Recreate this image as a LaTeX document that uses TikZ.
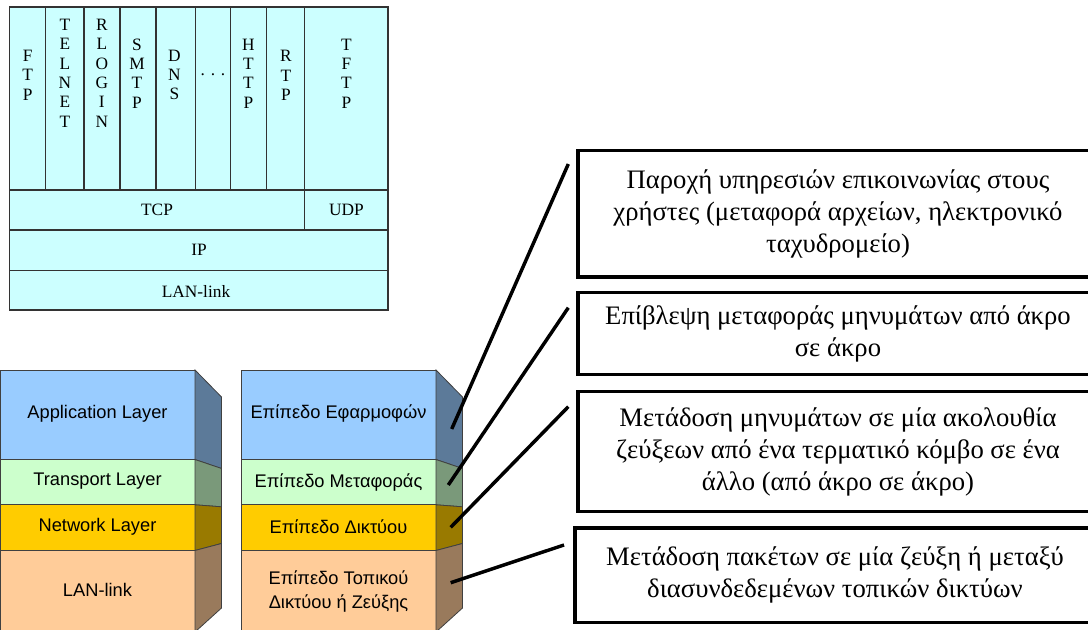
\documentclass[tikz,border=0pt]{standalone}
\usepackage{fontspec}
\setmainfont{Liberation Serif}
\newfontfamily\arialfont{Liberation Sans}

\definecolor{protofill}{HTML}{CCFFFF}
\definecolor{fapp}{HTML}{99CCFF}
\definecolor{sapp}{HTML}{5C7A99}
\definecolor{ftrans}{HTML}{CCFFCC}
\definecolor{strans}{HTML}{7A997A}
\definecolor{fnet}{HTML}{FFCC00}
\definecolor{snet}{HTML}{997A00}
\definecolor{flan}{HTML}{FFCC99}
\definecolor{slan}{HTML}{997A5C}

\begin{document}
\begin{tikzpicture}[x=0.75pt,y=-0.75pt,
  proto/.style={font=\fontsize{13}{14.5}\selectfont, align=center, inner sep=0pt},
  layer/.style={font=\arialfont\fontsize{13.7}{18}\selectfont, align=center, inner sep=0pt},
  descbox/.style={draw, line width=2.4pt, align=center, inner sep=0pt,
    font=\fontsize{20}{24}\selectfont},
  link/.style={line width=2.6pt}]
\useasboundingbox (0,0) rectangle (1088,630);
\clip (0,0) rectangle (1088,630);

\draw[fill=protofill, draw=black!80, line width=0.8pt] (9.5,7) rectangle (388,310);
\foreach \x in {45.7,84,120,156,195.7,230.7,266.7}
  \draw[black!80, line width=0.8pt] (\x,7) -- (\x,190);
\draw[black!80, line width=0.8pt] (304.7,7) -- (304.7,230);
\foreach \y in {190,230,270.7}
  \draw[black!80, line width=0.8pt] (9.5,\y) -- (388,\y);

\node[proto] (ftp) at (27.6,75) {F\\T\\P};
\node[proto] (telnet) at (64.9,73) {T\\E\\L\\N\\E\\T};
\node[proto] (rlogin) at (101.8,73) {R\\L\\O\\G\\I\\N};
\node[proto] (smtp) at (137,73.5) {S\\M\\T\\P};
\node[proto] (dns) at (174.5,75) {D\\N\\S};
\node[proto] (dots) at (213,75) {. . .};
\node[proto] (http) at (248.5,73.5) {H\\T\\T\\P};
\node[proto] (rtp) at (286,75.5) {R\\T\\P};
\node[proto] (tftp) at (346.5,73.5) {T\\F\\T\\P};
\node[proto] (tcp) at (157,210) {TCP};
\node[proto] (udp) at (346.5,210) {UDP};
\node[proto] (ip) at (199,250) {IP};
\node[proto] (lanlink) at (196,291) {LAN-link};

\foreach \sx/\pre in {0/en,241/gr}{
  \begin{scope}[shift={(\sx,0)}]
    \foreach \ya/\yb/\sa/\sb/\col in {370/459.5/397/468.5/app,
        459.5/504.8/468.5/506.8/trans, 504.8/550.5/506.8/543.5/net,
        550.5/632/543.5/608/lan}
    {
      \filldraw[fill=f\col, draw=black!75, line width=0.6pt] (0,\ya) rectangle (195,\yb);
      \filldraw[fill=s\col, draw=black!75, line width=0.6pt]
        (195,\ya) -- (221.5,\sa) -- (221.5,\sb) -- (195,\yb) -- cycle;
    }
    \coordinate (\pre-app) at (210.7,429);
    \coordinate (\pre-trans) at (207.3,485);
    \coordinate (\pre-net) at (209.7,527.3);
    \coordinate (\pre-lan) at (209.7,582.7);
  \end{scope}
}

\node[layer] (appen) at (97.5,413.5) {Application Layer};
\node[layer] (transen) at (97.5,481.5) {Transport Layer};
\node[layer] (neten) at (97.5,527) {Network Layer};
\node[layer] (lanen) at (97.5,590) {LAN-link};
\node[layer] (appgr) at (338.5,414) {Επίπεδο Εφαρμοφών};
\node[layer] (transgr) at (338.5,483) {Επίπεδο Μεταφοράς};
\node[layer] (netgr) at (338.5,527) {Επίπεδο Δικτύου};
\node[layer] (langr) at (338.5,592) {Επίπεδο Τοπικού\\Δικτύου ή Ζεύξης};

\node[descbox, minimum width=390pt, minimum height=94.7pt] (appdesc) at (838,213.9)
  {Παροχή υπηρεσιών επικοινωνίας στους\\χρήστες (μεταφορά αρχείων, ηλεκτρονικό\\ταχυδρομείο)};
\node[descbox, minimum width=390pt, minimum height=61.5pt] (transdesc) at (838,333.5)
  {Επίβλεψη μεταφοράς μηνυμάτων από άκρο\\σε άκρο};
\node[descbox, minimum width=390pt, minimum height=90pt] (netdesc) at (838,451.7)
  {Μετάδοση μηνυμάτων σε μία ακολουθία\\ζεύξεων από ένα τερματικό κόμβο σε ένα\\άλλο (από άκρο σε άκρο)};
\node[descbox, minimum width=390pt, minimum height=71pt] (landesc) at (835,575.3)
  {Μετάδοση πακέτων σε μία ζεύξη ή μεταξύ\\διασυνδεδεμένων τοπικών δικτύων};

\coordinate (app-end) at (568.3,164);
\coordinate (trans-end) at (568.3,307.7);
\coordinate (net-end) at (568.3,406.7);
\coordinate (lan-end) at (564,545);
\draw[link] (gr-app) -- (app-end);
\draw[link] (gr-trans) -- (trans-end);
\draw[link] (gr-net) -- (net-end);
\draw[link] (gr-lan) -- (lan-end);
\end{tikzpicture}
\end{document}
